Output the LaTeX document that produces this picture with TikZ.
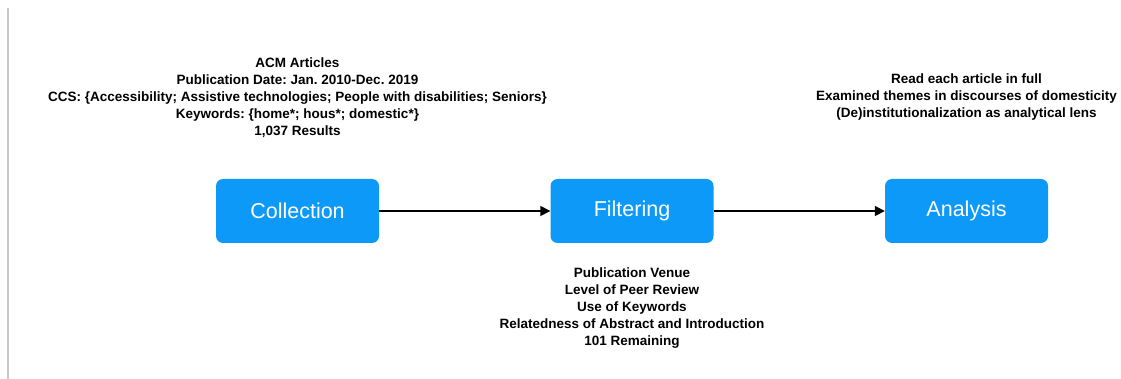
\documentclass[tikz,border=0pt]{standalone}
\usepackage{fontspec}
\setmainfont{Liberation Sans}
\usetikzlibrary{arrows.meta}
\definecolor{stepblue}{HTML}{0D99F8}
\definecolor{railgray}{HTML}{C8C8C8}
\frenchspacing
\begin{document}
\begin{tikzpicture}[x=1pt,y=-1pt,
  stagebox/.style={fill=stepblue, draw=none, rounded corners=7pt,
    minimum width=163pt, minimum height=64pt, text=white,
    font=\fontsize{21.5}{24}\selectfont, inner sep=0pt},
  notes/.style={align=center, font=\bfseries\fontsize{13.5}{17}\selectfont, inner sep=0pt},
  flow/.style={line width=1.7pt, -{Triangle[length=10pt,width=10pt]}}]
  \useasboundingbox (0,0) rectangle (1121,379);
  % left rail
  \draw[railgray, line width=2pt] (8,8) -- (8,379);
  % stages
  \node[stagebox] (collection) at (297.5,211) {Collection};
  \node[stagebox] (filtering) at (632,211) {Filtering};
  \node[stagebox] (analysis) at (966.5,211) {Analysis};
  \draw[flow] (collection) -- (filtering);
  \draw[flow] (filtering) -- (analysis);
  % stage notes
  \node[notes, anchor=center] (collnote) at (297.5,97.5) {ACM Articles\\Publication Date: Jan. 2010-Dec. 2019\\CCS: \{Accessibility; Assistive technologies; People with disabilities; Seniors\}\\Keywords: \{home*; hous*; domestic*\}\\1,037 Results};
  \node[notes, anchor=center] (filtnote) at (632,308.5) {Publication Venue\\Level of Peer Review\\Use of Keywords\\Relatedness of Abstract and Introduction\\101 Remaining};
  \node[notes, anchor=center] (anote) at (966.5,97.5) {Read each article in full\\Examined themes in discourses of domesticity\\(De)institutionalization as analytical lens};
\end{tikzpicture}
\end{document}
